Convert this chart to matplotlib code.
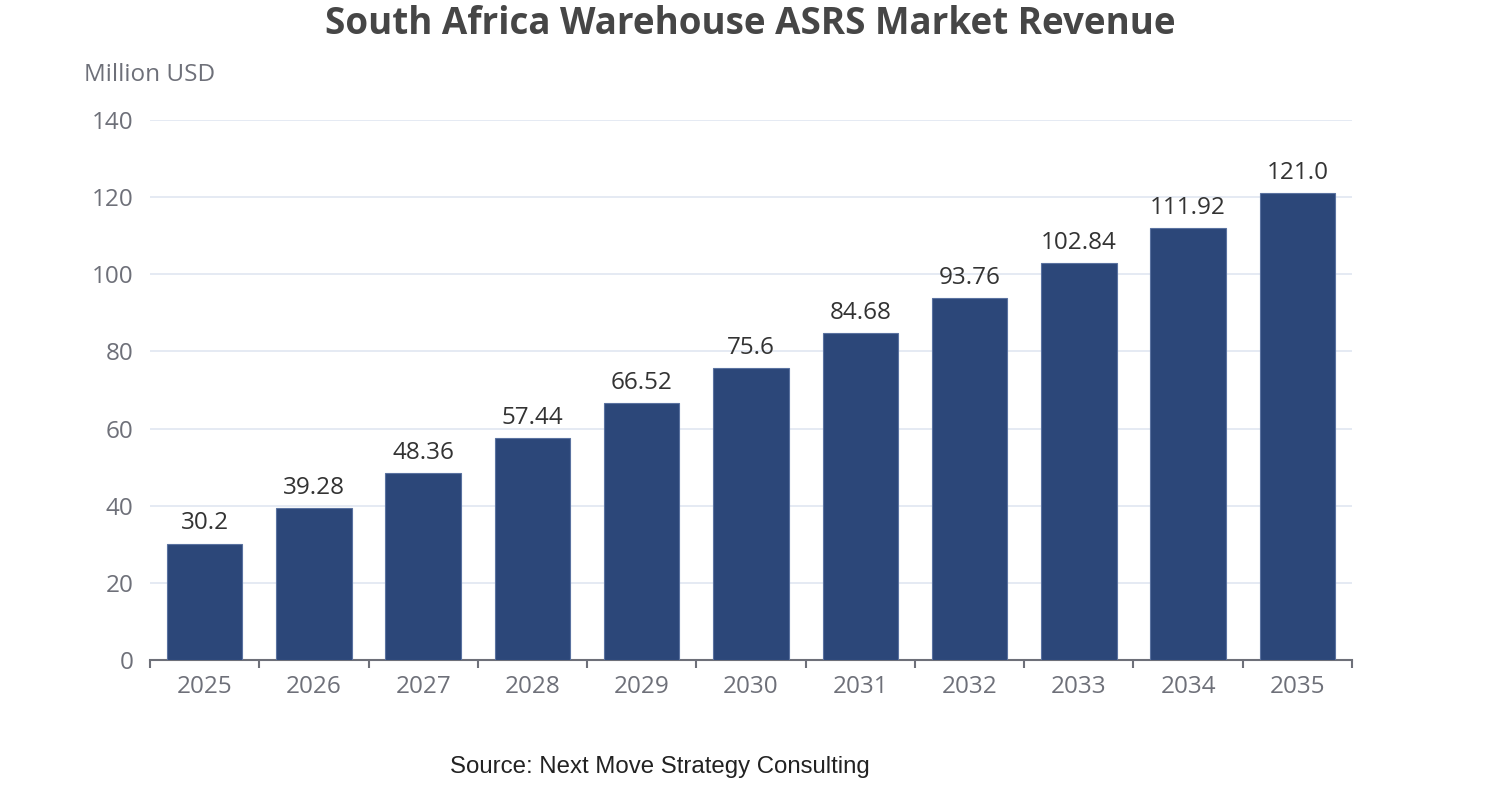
import matplotlib
matplotlib.use("Agg")
from matplotlib import pyplot as plt
import numpy as np

years = ["2025", "2026", "2027", "2028", "2029", "2030", "2031", "2032", "2033", "2034", "2035"]
revenue = [30.2, 39.28, 48.36, 57.44, 66.52, 75.6, 84.68, 93.76, 102.84, 111.92, 121.0]
labels = ["30.2", "39.28", "48.36", "57.44", "66.52", "75.6", "84.68", "93.76", "102.84", "111.92", "121.0"]
y_ticks = [0, 20, 40, 60, 80, 100, 120, 140]

plt.rcParams['font.family'] = ['Open Sans', 'DejaVu Sans']

fig = plt.figure(figsize=(15.02, 8.0), dpi=100)
ax = fig.add_axes([150 / 1502, 1 - 660 / 800, 1202 / 1502, 540 / 800])

x = np.arange(len(years))
ax.bar(x, revenue, width=0.69, color="#2c4779", edgecolor="#5a72a0", linewidth=0.8, zorder=3)
for xi, v, lab in zip(x, revenue, labels):
    ax.annotate(lab, (xi, v), xytext=(0, 6), textcoords="offset points",
                ha="center", va="bottom", fontsize=17.5, color="#333333")

ax.set_xlim(-0.5, len(years) - 0.5)
ax.set_ylim(0, 140)
ax.set_yticks(y_ticks)
ax.set_yticklabels([str(t) for t in y_ticks], fontsize=17.5, color="#6e7079")
ax.tick_params(axis="y", length=0, pad=12)
ax.grid(axis="y", color="#e0e6f1", linewidth=1.2, zorder=0)

ax.set_xticks(x)
ax.set_xticklabels(years, fontsize=17.5, color="#6e7079")
ax.tick_params(axis="x", which="major", length=0, pad=11)
ax.set_xticks(np.arange(-0.5, len(years), 1.0), minor=True)
ax.tick_params(axis="x", which="minor", length=6, width=1.5, color="#6e7079")

for s in ["top", "right", "left"]:
    ax.spines[s].set_visible(False)
ax.spines["bottom"].set_color("#6e7079")
ax.spines["bottom"].set_linewidth(1.5)

fig.text(150 / 1502, 1 - 75 / 800, "Million USD", fontsize=17.5, color="#6e7079",
         ha="center", va="center")
fig.text(750 / 1502, 1 - 24 / 800, "South Africa Warehouse ASRS Market Revenue",
         fontsize=26.5, fontweight="bold", color="#464646", ha="center", va="center")
fig.text(660 / 1502, 1 - 767 / 800, "Source: Next Move Strategy Consulting",
         fontsize=17.3, color="#222222", ha="center", va="center", family="Liberation Sans")

fig.savefig("out.png", dpi=100)
